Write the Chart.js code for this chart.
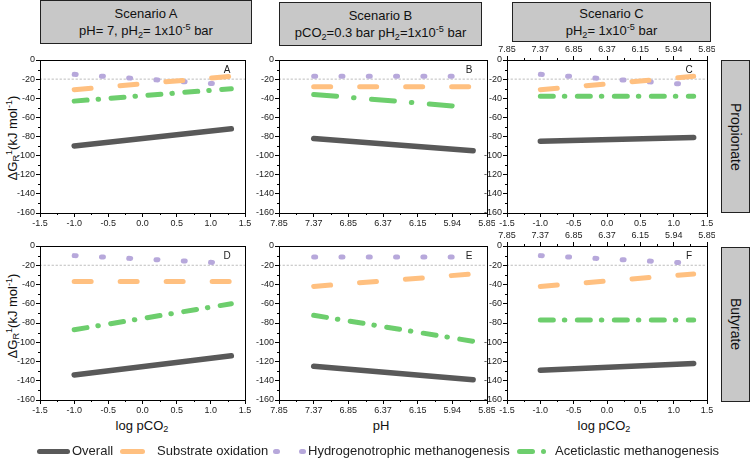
<!DOCTYPE html>
<html><head><meta charset="utf-8">
<script src="https://cdn.jsdelivr.net/npm/chart.js@4.4.0/dist/chart.umd.min.js"></script>
<style>
body{margin:0;width:750px;height:459px;position:relative;background:#fff;font-family:"Liberation Sans",Arial,sans-serif;color:#111;overflow:hidden}
.panel{position:absolute}
.tbox{position:absolute;background:#c8c8c8;border:1.5px solid #222;box-sizing:border-box;display:flex;flex-direction:column;justify-content:center;align-items:center;font-size:13px;line-height:17px}
.sbox{position:absolute;background:#c8c8c8;border:1.5px solid #222;box-sizing:border-box;display:flex;justify-content:center;align-items:center}
.sbox span{writing-mode:vertical-rl;font-size:14px}
sub{font-size:70%;vertical-align:-0.3em;line-height:0}
sup{font-size:70%;vertical-align:0.5em;line-height:0}
.ytitle{position:absolute;transform:translate(-50%,-50%) rotate(-90deg);white-space:nowrap;font-size:13px}
.xtitle{position:absolute;transform:translate(-50%,-50%);white-space:nowrap;font-size:13px}
.lg{position:absolute;top:449px;height:5px;border-radius:3px}
.lt{position:absolute;top:443px;font-size:13px;line-height:16px;white-space:nowrap;color:#222}
</style></head><body>

<div class="tbox" style="left:40px;top:0px;width:212px;height:44px"><div>Scenario A</div><div>pH= 7, pH<sub>2</sub>= 1x10<sup>-5</sup> bar</div></div>
<div class="tbox" style="left:279px;top:2px;width:203px;height:44px"><div>Scenario B</div><div>pCO<sub>2</sub>=0.3 bar pH<sub>2</sub>=1x10<sup>-5</sup> bar</div></div>
<div class="tbox" style="left:512px;top:2px;width:199px;height:40px"><div>Scenario C</div><div>pH<sub>2</sub>= 1x10<sup>-5</sup> bar</div></div>

<div class="sbox" style="left:721px;top:60px;width:29px;height:153px"><span>Propionate</span></div>
<div class="sbox" style="left:721px;top:247px;width:29px;height:155px"><span>Butyrate</span></div>

<div class="ytitle" style="left:12px;top:138px">ΔG<sub>R</sub><sup>1</sup>(kJ mol<sup>-1</sup>)</div>
<div class="ytitle" style="left:12px;top:316px">ΔG<sub>R</sub><sup>1</sup>(kJ mol<sup>-1</sup>)</div>

<div class="xtitle" style="left:142px;top:425px">log pCO<sub>2</sub></div>
<div class="xtitle" style="left:381px;top:425px">pH</div>
<div class="xtitle" style="left:604px;top:425px">log pCO<sub>2</sub></div>

<div class="panel" style="left:0px;top:46px;width:253px;height:187px"><canvas id="cA"></canvas></div>
<div class="panel" style="left:239px;top:46px;width:256px;height:187px"><canvas id="cB"></canvas></div>
<div class="panel" style="left:467px;top:46px;width:248px;height:187px"><canvas id="cC"></canvas></div>
<div class="panel" style="left:0px;top:232px;width:253px;height:188px"><canvas id="cD"></canvas></div>
<div class="panel" style="left:239px;top:232px;width:256px;height:188px"><canvas id="cE"></canvas></div>
<div class="panel" style="left:467px;top:232px;width:248px;height:188px"><canvas id="cF"></canvas></div>

<div class="lg" style="left:37px;width:33px;background:#595959"></div>
<div class="lt" style="left:72px">Overall</div>
<div class="lg" style="left:120px;width:25px;background:#FFC080"></div>
<div class="lt" style="left:157px">Substrate oxidation</div>
<div class="lg" style="left:273px;width:7px;background:#B7A8DB"></div>
<div class="lg" style="left:299px;width:7px;background:#B7A8DB"></div>
<div class="lt" style="left:308px">Hydrogenotrophic methanogenesis</div>
<div class="lg" style="left:517px;width:18px;background:#6DCE6D"></div>
<div class="lg" style="left:541px;width:5px;background:#6DCE6D"></div>
<div class="lt" style="left:555px">Aceticlastic methanogenesis</div>

<script>
// ---- Data ----
const xTickValues = [-1.5, -1.0, -0.5, 0.0, 0.5, 1.0, 1.5];
const logTickLabels = ['-1.5', '-1.0', '-0.5', '0.0', '0.5', '1.0', '1.5'];
const pHTickLabels = ['7.85', '7.37', '6.85', '6.37', '6.15', '5.94', '5.85'];
const yTickValues = [0, -20, -40, -60, -80, -100, -120, -140, -160];
const refLevel = [-20, -20];
const refX = [-1.5, 1.5];

const xSeries = [-1.0, 1.3];
const xPropB_acet = [-1.0, 1.0];

const propA_overall = [-90, -72];
const propA_substrate = [-31, -17];
const propA_hydro = [-15, -26];
const propA_acet = [-43, -30];

const propB_overall = [-82, -95];
const propB_substrate = [-28, -28];
const propB_hydro = [-17, -17];
const propB_acet = [-36, -48];

const propC_overall = [-85, -81];
const propC_substrate = [-31, -17];
const propC_hydro = [-15, -26];
const propC_acet = [-38, -38];

const butA_overall = [-134, -114];
const butA_substrate = [-37, -37];
const butA_hydro = [-10, -18];
const butA_acet = [-87, -60];

const butB_overall = [-125, -139];
const butB_substrate = [-42, -29];
const butB_hydro = [-11.5, -11.5];
const butB_acet = [-72, -99];

const butC_overall = [-129, -122];
const butC_substrate = [-42, -29];
const butC_hydro = [-10, -18];
const butC_acet = [-77, -77];

// ---- Styles ----
const COL = {overall:'#595959', substrate:'#FFC080', hydro:'#B7A8DB', acet:'#6DCE6D', ref:'#bdbdbd'};
const DASH = {substrate:[17,29], hydro:[2,25.3], acet:[13,11,0.5,12.5], acetLong:[23,17,0.5,17.5], ref:[1.5,2.5]};
const TICKFONT = {family:'"Liberation Sans", Arial, sans-serif', size:9};

function pts(xs, ys){ return xs.map((x,i)=>({x:x, y:ys[i]})); }
function ds(xs, ys, color, dash, width){
  return {data:pts(xs,ys), borderColor:color, backgroundColor:color, borderWidth:width, borderDash:dash,
          borderCapStyle:'round', pointRadius:0, tension:0, fill:false};
}
function zeroPad(s){ s.paddingLeft=0; s.paddingRight=0; s.paddingTop=0; s.paddingBottom=0; }

const decoPlugin = {
  id:'deco',
  afterDraw(chart, args, opts){
    const ctx = chart.ctx, a = chart.chartArea;
    ctx.save();
    ctx.strokeStyle='#000'; ctx.lineWidth=1;
    ctx.strokeRect(Math.round(a.left)+0.5, Math.round(a.top)+0.5, Math.round(a.right-a.left), Math.round(a.bottom-a.top));
    // minor ticks
    const y = chart.scales.y, x = chart.scales.x;
    ctx.beginPath();
    for (let i=0;i<yTickValues.length-1;i++){
      const v = (yTickValues[i]+yTickValues[i+1])/2;
      const p = Math.round(y.getPixelForValue(v))+0.5;
      ctx.moveTo(Math.round(a.left)-2, p); ctx.lineTo(Math.round(a.left), p);
    }
    for (let i=0;i<xTickValues.length-1;i++){
      const v = (xTickValues[i]+xTickValues[i+1])/2;
      const p = Math.round(x.getPixelForValue(v))+0.5;
      ctx.moveTo(p, Math.round(a.bottom)); ctx.lineTo(p, Math.round(a.bottom)+2);
      if (opts.topTicks){ ctx.moveTo(p, Math.round(a.top)); ctx.lineTo(p, Math.round(a.top)-2); }
    }
    ctx.stroke();
    // panel letter
    ctx.fillStyle='#222'; ctx.font='10px "Liberation Sans", Arial, sans-serif';
    ctx.textAlign='center'; ctx.textBaseline='middle';
    ctx.fillText(opts.letter, a.right-18, a.top+10);
    ctx.restore();
  }
};

function makeChart(id, letter, bottomLabels, topLabels, s){
  const datasets = [
    ds(s.x, s.overall, COL.overall, [], 5.5),
    ds(s.x, s.substrate, COL.substrate, DASH.substrate, 5),
    ds(s.x, s.hydro, COL.hydro, DASH.hydro, 5),
    ds(s.acetX || s.x, s.acet, COL.acet, s.acetDash || DASH.acet, 5),
    ds(refX, refLevel, COL.ref, DASH.ref, 1)
  ];
  const hasTop = !!topLabels;
  new Chart(document.getElementById(id), {
    type:'line',
    data:{datasets},
    options:{
      responsive:true, maintainAspectRatio:false, animation:false, events:[],
      layout:{padding:{left:0,right:8,top:0,bottom:0}},
      plugins:{legend:{display:false}, tooltip:{enabled:false}, deco:{letter, topTicks:hasTop}},
      scales:{
        x:{type:'linear', position:'bottom', min:-1.5, max:1.5,
           afterBuildTicks:sc=>{sc.ticks = xTickValues.map(v=>({value:v}));},
           ticks:{autoSkip:false, maxRotation:0, font:TICKFONT, color:'#222', padding:1,
                  callback:(v,i)=>bottomLabels[i]},
           grid:{drawOnChartArea:false, drawTicks:true, tickLength:4, color:'#000'},
           border:{display:true, color:'#000'},
           afterFit:sc=>{sc.height=20; zeroPad(sc);}},
        xTop:{type:'linear', position:'top', min:-1.5, max:1.5,
           afterBuildTicks:sc=>{sc.ticks = xTickValues.map(v=>({value:v}));},
           ticks:{display:hasTop, autoSkip:false, maxRotation:0, font:TICKFONT, color:'#222', padding:1,
                  callback:(v,i)=> hasTop ? topLabels[i] : ''},
           grid:{display:hasTop, drawOnChartArea:false, drawTicks:true, tickLength:4, color:'#000'},
           border:{display:false},
           afterFit:sc=>{sc.height=14; zeroPad(sc);}},
        y:{type:'linear', position:'left', min:-160, max:0,
           afterBuildTicks:sc=>{sc.ticks = yTickValues.slice().reverse().map(v=>({value:v}));},
           ticks:{autoSkip:false, font:TICKFONT, color:'#222', padding:1},
           grid:{drawOnChartArea:false, drawTicks:true, tickLength:4, color:'#000'},
           border:{display:true, color:'#000'},
           afterFit:sc=>{sc.width=40; zeroPad(sc);}}
      }
    },
    plugins:[decoPlugin]
  });
}

makeChart('cA','A',logTickLabels,null,{x:xSeries, overall:propA_overall, substrate:propA_substrate, hydro:propA_hydro, acet:propA_acet});
makeChart('cB','B',pHTickLabels,null,{x:xSeries, overall:propB_overall, substrate:propB_substrate, hydro:propB_hydro, acet:propB_acet, acetX:xPropB_acet, acetDash:DASH.acetLong});
makeChart('cC','C',logTickLabels,pHTickLabels,{x:xSeries, overall:propC_overall, substrate:propC_substrate, hydro:propC_hydro, acet:propC_acet});
makeChart('cD','D',logTickLabels,null,{x:xSeries, overall:butA_overall, substrate:butA_substrate, hydro:butA_hydro, acet:butA_acet});
makeChart('cE','E',pHTickLabels,null,{x:xSeries, overall:butB_overall, substrate:butB_substrate, hydro:butB_hydro, acet:butB_acet});
makeChart('cF','F',logTickLabels,pHTickLabels,{x:xSeries, overall:butC_overall, substrate:butC_substrate, hydro:butC_hydro, acet:butC_acet});
</script>
</body></html>
